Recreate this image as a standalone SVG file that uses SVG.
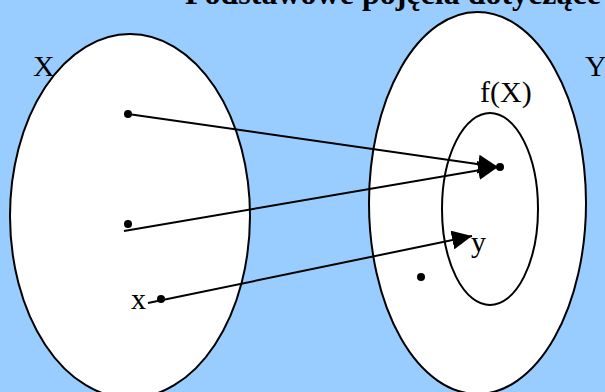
<svg xmlns="http://www.w3.org/2000/svg" width="605" height="392" viewBox="0 0 605 392">
<style>
.set{fill:#fff;stroke:#000;stroke-width:2}
.sub{fill:none;stroke:#000;stroke-width:2}
.lbl{font-family:"Liberation Serif","Times New Roman",serif;font-size:30px;fill:#000}
.ttl{font-family:"Liberation Serif","Times New Roman",serif;font-size:32px;font-weight:bold;fill:#000}
.arr{fill:none;stroke:#000;stroke-width:2}
.dot{fill:#000}
</style>
<defs>
<marker id="ah" viewBox="0 0 20 19" refX="20" refY="9.5" markerWidth="20" markerHeight="19" markerUnits="userSpaceOnUse" orient="auto">
<path d="M0,0 L20,9.5 L0,19 z" fill="#000"/>
</marker>
</defs>
<rect width="605" height="392" fill="#99ccff"/>
<text class="ttl" x="185" y="4">Podstawowe pojęcia dotyczące</text>
<g id="setX">
<ellipse class="set" cx="130" cy="216" rx="120" ry="182"/>
<text class="lbl" x="33" y="76">X</text>
<circle class="dot" cx="128" cy="114" r="4"/>
<circle class="dot" cx="128" cy="224" r="4"/>
<circle class="dot" cx="161" cy="299" r="4"/>
<text class="lbl" x="131" y="309">x</text>
</g>
<g id="setY">
<ellipse class="set" cx="477.5" cy="203" rx="108.5" ry="191"/>
<text class="lbl" x="585" y="76">Y</text>
<circle class="dot" cx="421" cy="277" r="4"/>
</g>
<g id="fX">
<ellipse class="sub" cx="490" cy="209" rx="48" ry="96"/>
<text class="lbl" x="480" y="102">f(X)</text>
<circle class="dot" cx="500" cy="167" r="4"/>
<text class="lbl" x="471" y="252">y</text>
</g>
<g id="connectors">
<line class="arr" x1="128" y1="114" x2="498" y2="167" marker-end="url(#ah)"/>
<line class="arr" x1="124" y1="231" x2="498" y2="167" marker-end="url(#ah)"/>
<line class="arr" x1="148" y1="303" x2="472" y2="236" marker-end="url(#ah)"/>
</g>
</svg>
